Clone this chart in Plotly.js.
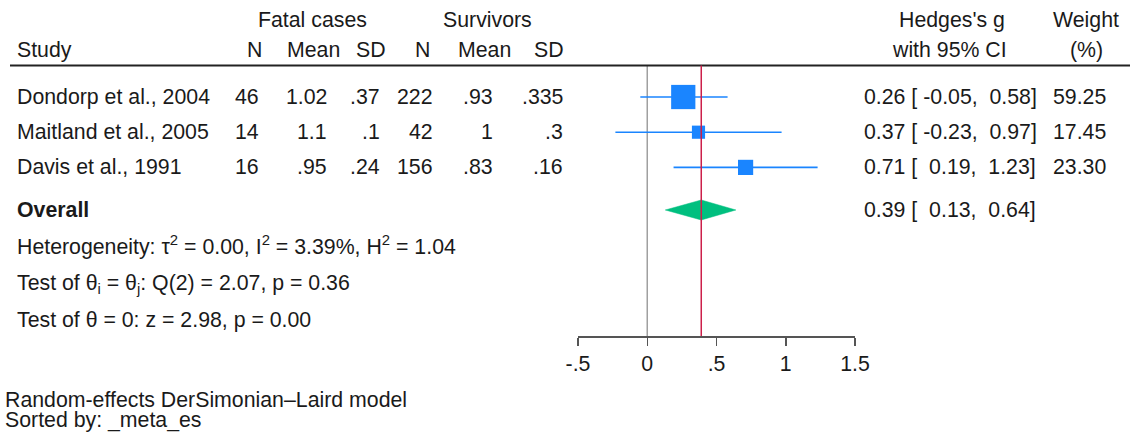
<!DOCTYPE html>
<html><head><meta charset="utf-8">
<script src="https://cdn.plot.ly/plotly-3.0.1.min.js"></script>
<style>html,body{margin:0;padding:0;background:#fff;}</style>
</head><body>
<div id="chart" style="width:1135px;height:434px;"></div>
<script>
// ---- data ----
const studies   = ["Dondorp et al., 2004", "Maitland et al., 2005", "Davis et al., 1991"];
const fatalN    = [46, 14, 16];
const fatalMean = [1.02, 1.1, 0.95];
const fatalSD   = [0.37, 0.1, 0.24];
const survN     = [222, 42, 156];
const survMean  = [0.93, 1, 0.83];
const survSD    = [0.335, 0.3, 0.16];
const esG       = [0.26, 0.37, 0.71];
const esLo      = [-0.05, -0.23, 0.19];
const esHi      = [0.58, 0.97, 1.23];
const weights   = [59.25, 17.45, 23.30];
const overallG  = 0.39, overallLo = 0.13, overallHi = 0.64;
const tau2 = 0.00, I2 = 3.39, H2 = 1.04;
const Qstat = 2.07, Qdf = 2, Qp = 0.36;
const zstat = 2.98, zp = 0.00;
const tickVals  = [-0.5, 0, 0.5, 1, 1.5];
const tickText  = ["-.5", "0", ".5", "1", "1.5"];
const footNotes = ["Random-effects DerSimonian\u2013Laird model", "Sorted by: _meta_es"];

// ---- layout constants ----
const W = 1135, H = 434;
const px = v => v / W;
const rowStudy = [0, 1, 2];
const rowOverall = 3.21, rowHet = 4.23, rowT1 = 5.31, rowT2 = 6.33;
const rowHead1 = -2.19, rowHead2 = -1.33, rowRule = -0.895;
const yTop = -2.756, yBot = 6.79;
const FONT = "Liberation Sans, Arial, sans-serif";
const FS = 21.3;
const TXT = "#1a1a1a";
const BLUE = "#1a85ff", GREEN = "#00bf7f", RED = "#cc1f4a";

const stata = v => String(v).replace(/^0\./, ".").replace(/^-0\./, "-.");
const f2 = v => v.toFixed(2);
const pad = (s, n) => { while (s.length < n) s = "\u00a0" + s; return s; };
const ciText = (g, lo, hi) => f2(g) + "\u00a0[" + pad(f2(lo), 6) + ",\u00a0" + pad(f2(hi), 5) + "]";

const ann = [];
function T(text, xp, y, anchor, extra) {
  ann.push(Object.assign({text: text, x: px(xp), xref: "paper", y: y, yref: "y",
    xanchor: anchor, yanchor: "middle", showarrow: false,
    font: {family: FONT, size: FS, color: TXT}}, extra || {}));
}

// headers
T("Fatal cases", 312, rowHead1, "center");
T("Survivors", 487, rowHead1, "center");
T("Hedges's g", 952, rowHead1, "center");
T("Weight", 1086, rowHead1, "center");
T("Study", 15, rowHead2, "left");
T("N", 254, rowHead2, "center");
T("Mean", 313, rowHead2, "center");
T("SD", 371, rowHead2, "center");
T("N", 422, rowHead2, "center");
T("Mean", 484, rowHead2, "center");
T("SD", 549, rowHead2, "center");
T("with 95% CI", 949, rowHead2, "center");
T("(%)", 1086, rowHead2, "center");

// study rows
studies.forEach((s, i) => {
  const r = rowStudy[i];
  T(s, 15, r, "left");
  T(stata(fatalN[i]), 261, r, "right");
  T(stata(fatalMean[i]), 329, r, "right");
  T(stata(fatalSD[i]), 382, r, "right");
  T(stata(survN[i]), 435, r, "right");
  T(stata(survMean[i]), 495, r, "right");
  T(stata(survSD[i]), 565, r, "right");
  T(ciText(esG[i], esLo[i], esHi[i]), 862, r, "left");
  T(f2(weights[i]), 1108, r, "right");
});

T("<b>Overall</b>", 15, rowOverall, "left");
T(ciText(overallG, overallLo, overallHi), 862, rowOverall, "left");
T("Heterogeneity: \u03c4<sup>2</sup> = " + f2(tau2) + ", I<sup>2</sup> = " + f2(I2) + "%, H<sup>2</sup> = " + f2(H2), 15, rowHet, "left");
T("Test of \u03b8<sub>i</sub> = \u03b8<sub>j</sub>: Q(" + Qdf + ") = " + f2(Qstat) + ", p = " + f2(Qp), 15, rowT1, "left");
T("Test of \u03b8 = 0: z = " + f2(zstat) + ", p = " + f2(zp), 15, rowT2, "left");
[400, 420].forEach((yy, k) => {
  ann.push({text: footNotes[k], x: px(3), xref: "paper", y: 1 - yy / H, yref: "paper",
    xanchor: "left", yanchor: "middle", showarrow: false,
    font: {family: FONT, size: FS, color: TXT}});
});

// traces
const traces = [];
traces.push({
  type: "scatter", mode: "markers", x: esG, y: rowStudy,
  marker: {symbol: "square", color: BLUE, opacity: 1, size: weights.map(w => 3.15 * Math.sqrt(w)), line: {width: 0}},
  error_x: {type: "data", symmetric: false, array: esHi.map((h, i) => h - esG[i]),
            arrayminus: esLo.map((l, i) => esG[i] - l), color: BLUE, thickness: 1.6, width: 0},
  cliponaxis: false, hoverinfo: "skip", showlegend: false
});
const dh = 0.284;
traces.push({
  type: "scatter", mode: "lines", fill: "toself", fillcolor: GREEN,
  x: [overallLo, overallG, overallHi, overallG, overallLo],
  y: [rowOverall, rowOverall - dh, rowOverall, rowOverall + dh, rowOverall],
  line: {color: GREEN, width: 0.5}, hoverinfo: "skip", showlegend: false
});

const shapes = [
  {type: "line", xref: "paper", yref: "y", x0: px(10), x1: px(1130), y0: rowRule, y1: rowRule,
   line: {color: "#222", width: 2}},
  {type: "line", xref: "x", yref: "y", x0: 0, x1: 0, y0: rowRule, y1: yBot,
   line: {color: "#a0a0a0", width: 1.5}, layer: "below"},
  {type: "line", xref: "x", yref: "y", x0: overallG, x1: overallG, y0: rowRule, y1: yBot,
   line: {color: RED, width: 1.5}, layer: "above"}
];

const layout = {
  width: W, height: H, margin: {l: 0, r: 0, t: 0, b: 0},
  paper_bgcolor: "#fff", plot_bgcolor: "rgba(0,0,0,0)",
  showlegend: false,
  xaxis: {domain: [px(578), px(855)], range: [-0.5, 1.5], showgrid: false, zeroline: false,
          showline: true, linecolor: "#555", linewidth: 1.5, ticks: "outside", ticklen: 8,
          tickcolor: "#555", tickwidth: 1.5, tickvals: tickVals, ticktext: tickText,
          tickfont: {family: FONT, size: FS, color: TXT}, fixedrange: true},
  yaxis: {domain: [(H - 336) / H, 1], range: [yBot, yTop], visible: false, fixedrange: true},
  annotations: ann, shapes: shapes
};

Plotly.newPlot("chart", traces, layout, {staticPlot: true, displayModeBar: false});
</script>
</body></html>
